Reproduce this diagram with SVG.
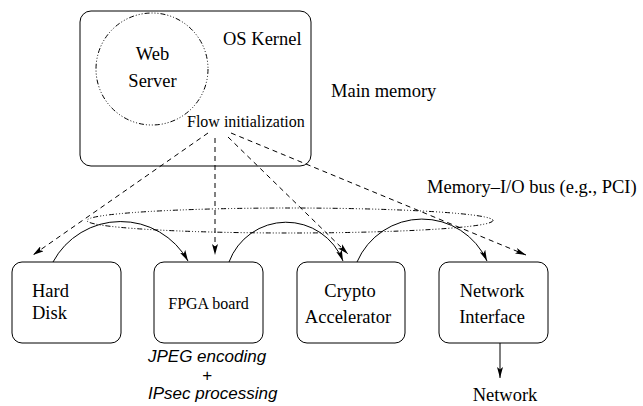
<svg xmlns="http://www.w3.org/2000/svg" width="643" height="406" viewBox="0 0 643 406">
  <style>
    .box { fill: none; stroke: #000; stroke-width: 1; }
    .dashdot { fill: none; stroke: #000; stroke-width: 1; stroke-dasharray: 5 2 1 2 1 2 1 2; }
    .dash { fill: none; stroke: #000; stroke-width: 1; stroke-dasharray: 5 4; marker-end: url(#ah); }
    .arc { fill: none; stroke: #000; stroke-width: 1; marker-end: url(#ah); }
    .t { font-family: "Liberation Serif", "Times New Roman", serif; font-size: 18.5px; fill: #000; }
    .ts { font-family: "Liberation Serif", "Times New Roman", serif; font-size: 16px; fill: #000; }
    .ti { font-family: "Liberation Sans", Arial, sans-serif; font-style: italic; font-size: 17px; fill: #000; }
  </style>
  <defs>
    <marker id="ah" viewBox="0 0 11 6" refX="11" refY="3" markerWidth="11" markerHeight="6" orient="auto" markerUnits="userSpaceOnUse">
      <path d="M0,0 L11,3 L0,6 L2.5,3 z" fill="#000"/>
    </marker>
  </defs>

  <!-- main memory: OS kernel with web server -->
  <g id="kernel">
    <rect class="box" x="80" y="11" width="231" height="155" rx="11"/>
    <text class="t" x="223" y="45">OS Kernel</text>
    <text class="ts" x="187" y="127">Flow initialization</text>
  </g>
  <g id="webserver">
    <circle class="dashdot" cx="152" cy="69" r="56"/>
    <text class="t" x="152.5" y="60" text-anchor="middle">Web</text>
    <text class="t" x="152.5" y="87" text-anchor="middle">Server</text>
  </g>
  <g id="mainmemory-label">
    <text class="t" x="331" y="97">Main memory</text>
  </g>

  <!-- I/O bus -->
  <g id="bus">
    <ellipse class="dashdot" cx="290" cy="220.5" rx="203" ry="12.5"/>
    <text class="t" x="427" y="193">Memory–I/O bus (e.g., PCI)</text>
  </g>

  <!-- devices -->
  <g id="harddisk">
    <rect class="box" x="12" y="262" width="109" height="81" rx="10"/>
    <text class="t" x="32" y="297">Hard</text>
    <text class="t" x="32" y="319">Disk</text>
  </g>
  <g id="fpga">
    <rect class="box" x="154" y="262" width="109" height="81" rx="10"/>
    <text class="ts" x="208.5" y="309" text-anchor="middle">FPGA board</text>
    <text class="ti" x="148" y="362">JPEG encoding</text>
    <text class="ti" x="207" y="380.5" text-anchor="middle" font-size="11">+</text>
    <text class="ti" x="148" y="398.5">IPsec processing</text>
  </g>
  <g id="crypto">
    <rect class="box" x="297" y="262" width="108" height="81" rx="10"/>
    <text class="t" x="350" y="297" text-anchor="middle">Crypto</text>
    <text class="t" x="348" y="323" text-anchor="middle">Accelerator</text>
  </g>
  <g id="nic">
    <rect class="box" x="439" y="262" width="109" height="81" rx="10"/>
    <text class="t" x="492" y="297" text-anchor="middle">Network</text>
    <text class="t" x="492" y="323" text-anchor="middle">Interface</text>
  </g>
  <g id="network">
    <text class="t" x="505" y="401" text-anchor="middle">Network</text>
  </g>

  <!-- connectors -->
  <g id="connectors">
    <line class="dash" x1="208" y1="133" x2="33" y2="255"/>
    <line class="dash" x1="215" y1="138" x2="215" y2="255"/>
    <line class="dash" x1="228" y1="137" x2="348" y2="254"/>
    <line class="dash" x1="231" y1="133" x2="526" y2="255"/>
    <path class="arc" d="M53,262 A77,77 0 0 1 188,261"/>
    <path class="arc" d="M229,262 A61,61 0 0 1 343,261"/>
    <path class="arc" d="M357,262 A71,71 0 0 1 487,261"/>
    <line class="arc" x1="500" y1="343" x2="500" y2="378"/>
  </g>
</svg>
